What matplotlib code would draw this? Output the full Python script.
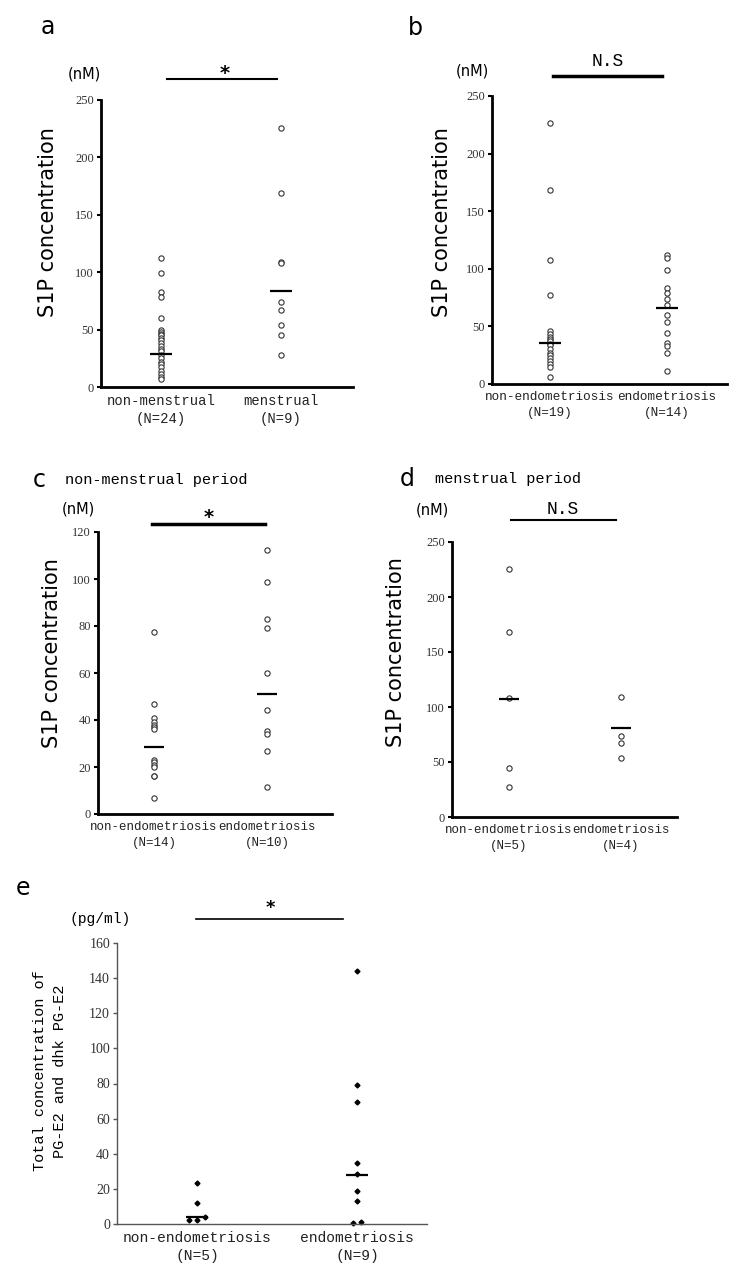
import matplotlib.pyplot as plt
from matplotlib.lines import Line2D

W, H = 737, 1281

# ---- data ----
a_groups = ["non-menstrual\n(N=24)", "menstrual\n(N=9)"]
a_nonmens = [112, 99.5, 83, 78, 60, 50, 48, 46, 45, 43, 41, 38, 36, 33, 31, 28,
             25, 22, 20, 17, 14, 11, 9, 7]
a_mens = [226, 168.6, 109, 107.6, 74, 67, 54, 45, 27.6]
a_lines = [28.5, 83.7]

b_groups = ["non-endometriosis\n(N=19)", "endometriosis\n(N=14)"]
b_nonendo = [226.6, 168.7, 108, 77, 46, 43, 41, 39, 37, 35, 34, 30, 27, 25, 23,
             20, 17, 15, 6]
b_endo = [112, 109, 99, 83, 79, 74, 69, 60, 54, 44, 36, 33, 27, 11]
b_lines = [35.6, 66]

c_groups = ["non-endometriosis\n(N=14)", "endometriosis\n(N=10)"]
c_nonendo = [77.4, 47, 41, 39, 38, 37, 36, 23, 22, 21, 20, 16, 16, 6.7]
c_endo = [112.2, 98.8, 82.9, 79, 59.8, 44.2, 35.4, 34.2, 26.8, 11.4]
c_lines = [28.7, 51]

d_groups = ["non-endometriosis\n(N=5)", "endometriosis\n(N=4)"]
d_nonendo = [225.8, 168.4, 108, 44.4, 27.2]
d_endo = [109.4, 74, 67, 53.5]
d_lines = [107, 81.3]

e_groups = ["non-endometriosis\n(N=5)", "endometriosis\n(N=9)"]
e_nonendo = [23.5, 11.8, 3.8, 2.3, 2.3]
e_endo = [143.9, 79.4, 69.2, 34.5, 28.5, 19, 13.3, 0.9, 0.4]
e_lines = [4.2, 27.9]

plt.rcParams['font.family'] = 'DejaVu Sans'
fig = plt.figure(figsize=(W / 100, H / 100), dpi=100)

MONO = 'Liberation Mono'
SERIF = 'Liberation Serif'


def ftext(x, y, s, **kw):
    # place text in pixel coordinates of the figure
    kw.setdefault('ha', 'center')
    kw.setdefault('va', 'center')
    fig.text(x / W, 1 - y / H, s, **kw)


def fline(x0, x1, y, lw):
    fig.add_artist(Line2D([x0 / W, x1 / W], [1 - y / H, 1 - y / H],
                          transform=fig.transFigure, color='black', lw=lw))


def dodge(vals, tol, step):
    # spread near-equal values sideways
    offs = [0.0] * len(vals)
    order = sorted(range(len(vals)), key=lambda i: vals[i])
    clusters, cur = [], [order[0]]
    for i in order[1:]:
        if vals[i] - vals[cur[-1]] < tol:
            cur.append(i)
        else:
            clusters.append(cur)
            cur = [i]
    clusters.append(cur)
    for cl in clusters:
        n = len(cl)
        for k, i in enumerate(cl):
            offs[i] = (k - (n - 1) / 2) * step
    return offs


def panel(box, gx, ymax, ystep, groups, series, lines, catsize,
          filled=False, hw=0.09, thin=False):
    left, top, right, bottom = box
    ax = fig.add_axes([left / W, 1 - bottom / H, (right - left) / W, (bottom - top) / H])
    unit = gx[1] - gx[0]
    ax.set_xlim((left - gx[0]) / unit, (right - gx[0]) / unit)
    ax.set_ylim(0, ymax)
    for i, vals in enumerate(series):
        if filled:
            offs = dodge(vals, 3.0, 0.05)
            ax.plot([i + o for o in offs], vals, 'D', ms=2.5, color='black',
                    ls='none', clip_on=False)
        else:
            ax.plot([i] * len(vals), vals, 'o', ms=3.8, mfc='white', mec='#333333',
                    mew=0.8, ls='none', clip_on=False)
    ax.hlines(lines, [i - hw for i in range(2)], [i + hw for i in range(2)],
              color='black', lw=1.6)
    ax.set_yticks(range(0, ymax + 1, ystep))
    ax.set_xticks([0, 1])
    ax.set_xticklabels(groups, fontfamily=MONO, fontsize=catsize, linespacing=1.4,
                       color='#222222')
    for lab in ax.get_yticklabels():
        lab.set_fontfamily(SERIF)
        lab.set_fontsize(10 if thin else 9)
        lab.set_color('#333333')
    for s in ['top', 'right']:
        ax.spines[s].set_visible(False)
    spc = '#555555' if thin else 'black'
    slw = 1.0 if thin else 2.0
    for s in ['left', 'bottom']:
        ax.spines[s].set_color(spc)
        ax.spines[s].set_linewidth(slw)
    ax.tick_params(axis='x', length=0, pad=5)
    ax.tick_params(axis='y', length=3, width=1 if thin else 1.5, color=spc, pad=2)
    return ax


# a
panel((101, 100, 353, 387), (161, 281), 250, 50, a_groups, [a_nonmens, a_mens], a_lines, 10)
ftext(48, 27, 'a', fontsize=17)
ftext(84, 74, '(nM)', fontsize=10.5)
ftext(48, 222, 'S1P concentration', fontsize=15, rotation=90)
fline(167, 277, 79, 1.5)
ftext(225, 73, '*', fontsize=14, fontweight='bold')

# b
panel((492, 96, 727, 384), (550, 667), 250, 50, b_groups, [b_nonendo, b_endo], b_lines, 9.2)
ftext(415, 28, 'b', fontsize=17)
ftext(472, 71, '(nM)', fontsize=10.5)
ftext(442, 222, 'S1P concentration', fontsize=15, rotation=90)
fline(553, 662, 76, 2.5)
ftext(608, 61, 'N.S', fontsize=13, fontfamily=MONO)

# c
panel((98, 532, 332, 814), (154, 267), 120, 20, c_groups, [c_nonendo, c_endo], c_lines, 9)
ftext(39, 480, 'c', fontsize=17)
ftext(65, 480, 'non-menstrual period', fontsize=11, fontfamily=MONO, ha='left')
ftext(78, 509, '(nM)', fontsize=10.5)
ftext(52, 653, 'S1P concentration', fontsize=15, rotation=90)
fline(152, 265, 524, 2.5)
ftext(209, 517, '*', fontsize=14, fontweight='bold')

# d
panel((452, 542, 677, 817), (509, 621), 250, 50, d_groups, [d_nonendo, d_endo], d_lines, 9)
ftext(407, 479, 'd', fontsize=17)
ftext(435, 479, 'menstrual period', fontsize=11, fontfamily=MONO, ha='left')
ftext(432, 510, '(nM)', fontsize=10.5)
ftext(396, 652, 'S1P concentration', fontsize=15, rotation=90)
fline(511, 616, 520, 1.5)
ftext(563, 510, 'N.S', fontsize=13, fontfamily=MONO)

# e
panel((117, 943, 427, 1224), (197, 357), 160, 20, e_groups, [e_nonendo, e_endo], e_lines, 10.5,
      filled=True, hw=0.07, thin=True)
ftext(23, 888, 'e', fontsize=17)
ftext(100, 919, '(pg/ml)', fontsize=10.5, fontfamily=MONO)
ftext(50, 1071, 'Total concentration of\nPG-E2 and dhk PG-E2', fontsize=11,
      fontfamily=MONO, rotation=90, linespacing=1.5)
fline(196, 343, 919, 1.2)
ftext(270, 908, '*', fontsize=13, fontweight='bold')

fig.savefig('out.png', dpi=100)
